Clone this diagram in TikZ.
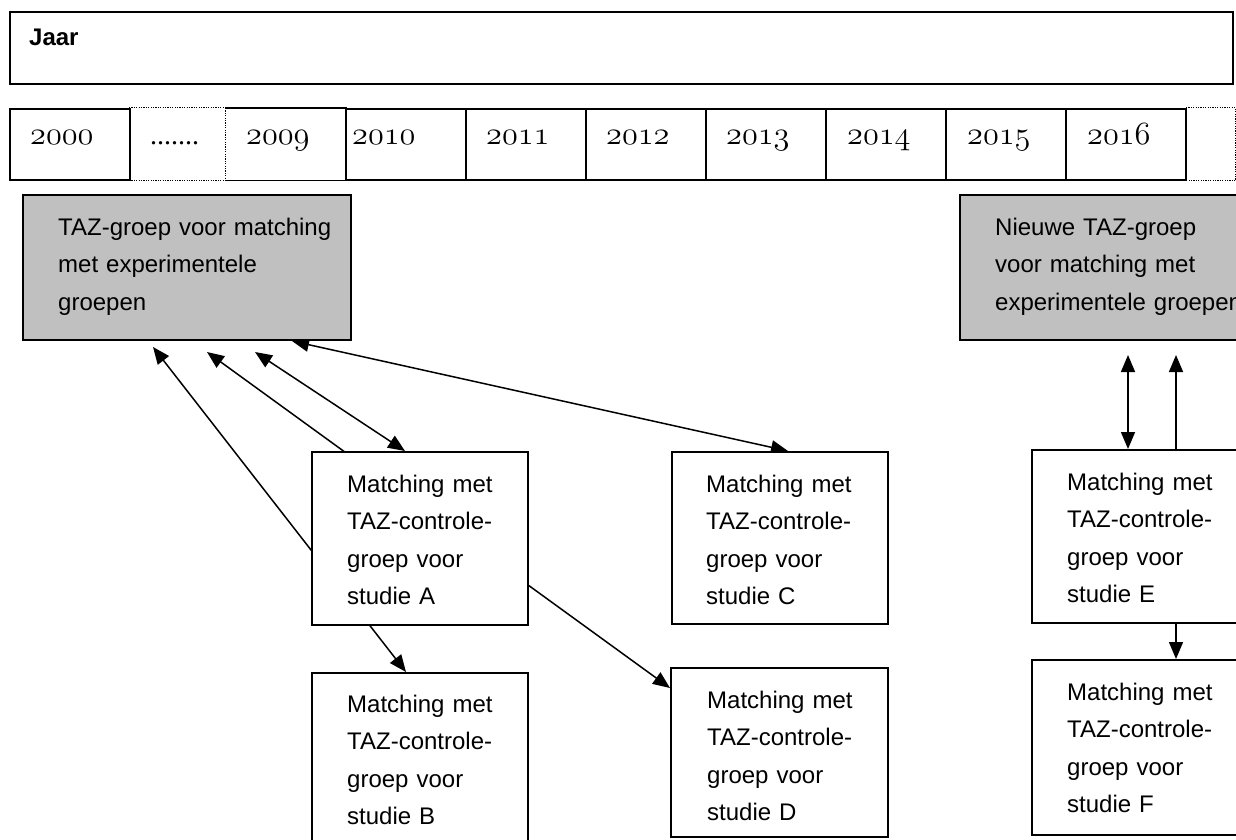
\documentclass[tikz,border=0pt]{standalone}
\usepackage{fontspec}
\usepackage{graphicx}
\setmainfont{Liberation Sans}
\newfontfamily\dotserif{Liberation Serif}
\usetikzlibrary{arrows.meta}
\definecolor{boxgray}{HTML}{C0C0C0}
\newcommand\oldnum[1]{\scalebox{1.3}{\fontencoding{OML}\fontfamily{lmm}\fontseries{m}\fontshape{it}\fontsize{24}{28}\selectfont #1}}
\pgfdeclarelayer{background}
\pgfsetlayers{background,main}
\begin{document}
\begin{tikzpicture}[x=1pt,y=-1pt,
  boxline/.style={line width=1.6pt},
  dotline/.style={line width=1pt, dash pattern=on 1.2pt off 1.2pt},
  cell/.style={anchor=north west, inner sep=0pt, minimum height=71pt, boxline},
  box/.style={anchor=north west, inner sep=0pt, draw, boxline, fill=white},
  graybox/.style={box, fill=boxgray},
  lbl/.style={anchor=base west, inner sep=0pt, text width=320pt, align=left, font=\fontsize{24}{37.5}\selectfont},
  yr/.style={anchor=base west, inner sep=0pt},
  conn/.style={line width=1.5pt, -{Triangle[length=17pt,width=14pt]}},
  dconn/.style={line width=1.5pt, {Triangle[length=17pt,width=14pt]}-{Triangle[length=17pt,width=14pt]}}
]
\useasboundingbox (0,0) rectangle (1236,840);
\clip (0,0) rectangle (1236,840);

% Jaar
\node[box, minimum width=1223pt, minimum height=72pt] (jaar) at (9,11) {};
\node[anchor=base west, inner sep=0pt, font=\fontsize{24}{28}\selectfont\bfseries] (jaarlbl) at (29,46) {Jaar};

% year row
\node[cell, draw, minimum width=120pt] (y2000) at (9,108) {};
\node[cell, minimum width=96pt] (ydots) at (129,108) {};
\draw[dotline] (ydots.north west) -- (ydots.north east) (ydots.south west) -- (ydots.south east);
\node[cell, minimum width=120pt] (y2009) at (225,108) {};
\draw[dotline] (y2009.north west) -- (y2009.south west);
\draw[boxline] (y2009.north west) -- (y2009.north east) -- (y2009.south east) -- (y2009.south west);
\foreach \k/\yy in {0/2010,1/2011,2/2012,3/2013,4/2014,5/2015,6/2016}{
  \node[cell, draw, minimum width=120pt] (y\yy) at (345+120*\k,108) {};
}
\node[cell, minimum width=48pt] (yend) at (1186,108) {};
\draw[dotline] (yend.north west) -- (yend.north east) -- (yend.south east) -- (yend.south west);

\node[yr] (t2000) at (30,144) {\oldnum{2000}};
\node[yr, font=\dotserif\fontsize{28}{32}\selectfont] (tdots) at (150,144) {.......};
\node[yr] (t2009) at (246,144) {\oldnum{2009}};
\node[yr] (t2010) at (352,144) {\oldnum{2010}};
\foreach \k/\yy in {1/2011,2/2012,3/2013}{
  \node[yr] (t\yy) at (366+120*\k,144) {\oldnum{\yy}};
}
\foreach \k/\yy in {4/2014,5/2015,6/2016}{
  \node[yr] (t\yy) at (367+120*\k,144) {\oldnum{\yy}};
}

% gray boxes
\node[graybox, minimum width=328pt, minimum height=145pt] (G1) at (22,194) {};
\node[lbl] (G1t) at (58,235) {TAZ-groep voor matching\\met experimentele\\groepen};
\node[graybox, minimum width=340pt, minimum height=145pt] (G2) at (959,194) {};
\node[lbl] (G2t) at (995,235) {Nieuwe TAZ-groep\\voor matching met\\experimentele groepen};

% study boxes
\node[box, minimum width=216pt, minimum height=173pt] (A) at (311,451) {};
\node[lbl] (At) at (347,492) {Matching met\\TAZ-controle-\\groep voor\\studie A};
\node[box, minimum width=216pt, minimum height=230pt] (B) at (311,672) {};
\node[lbl] (Bt) at (347,712) {Matching met\\TAZ-controle-\\groep voor\\studie B};
\node[box, minimum width=216pt, minimum height=172pt] (C) at (671,451) {};
\node[lbl] (Ct) at (706,492) {Matching met\\TAZ-controle-\\groep voor\\studie C};
\node[box, minimum width=217pt, minimum height=169pt] (D) at (670,667) {};
\node[lbl] (Dt) at (707,708) {Matching met\\TAZ-controle-\\groep voor\\studie D};
\node[box, minimum width=300pt, minimum height=173pt] (E) at (1031,449) {};
\node[lbl] (Et) at (1067,490) {Matching met\\TAZ-controle-\\groep voor\\studie E};
\node[box, minimum width=300pt, minimum height=175pt] (F) at (1031,659) {};
\node[lbl] (Ft) at (1067,700) {Matching met\\TAZ-controle-\\groep voor\\studie F};

% free ends below the gray boxes
\coordinate (g1) at (153,347);
\coordinate (g2) at (207,352);
\coordinate (g3) at (255,352);
\coordinate (g4) at (292,341);
\coordinate (g5) at (1128,355);
\coordinate (g6) at (1176,355);

\begin{pgfonlayer}{background}
\draw[dconn] ([xshift=95pt]B.north west) -- (g1);
\draw[dconn] ([yshift=-21pt]D.north west) -- (g2);
\draw[dconn] ([xshift=94pt]A.north west) -- (g3);
\draw[dconn] ([xshift=117pt]C.north west) -- (g4);
\draw[dconn] ([xshift=97pt]E.north west) -- (g5);
\draw[conn] ([xshift=145pt]E.north west) -- (g6);
\draw[conn] ([xshift=145pt]E.south west) -- ([xshift=145pt]F.north west);
\end{pgfonlayer}
\end{tikzpicture}
\end{document}
